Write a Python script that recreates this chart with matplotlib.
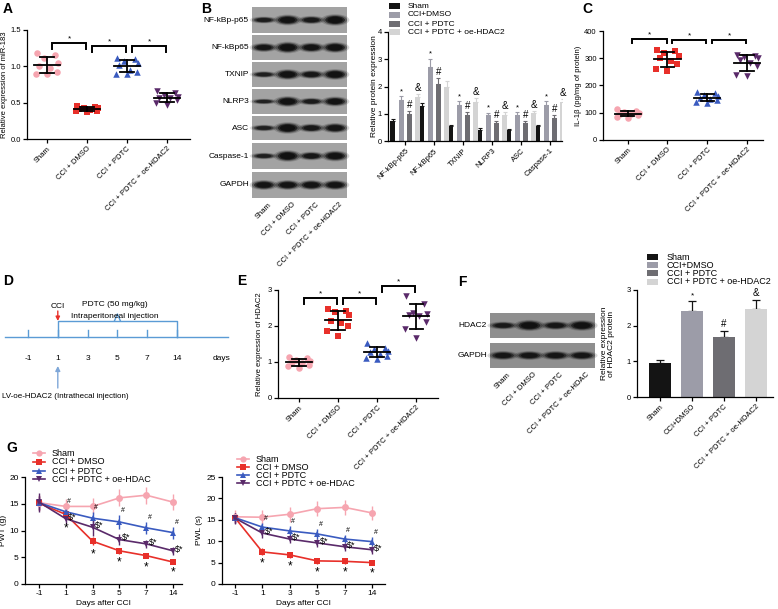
import matplotlib
matplotlib.use('Agg')
import matplotlib.pyplot as plt
import numpy as np
from matplotlib.patches import Ellipse, Rectangle
from matplotlib.lines import Line2D

plt.rcParams['font.family'] = ['Liberation Sans', 'DejaVu Sans']
plt.rcParams['font.size'] = 5.5
plt.rcParams['axes.linewidth'] = 0.9
plt.rcParams['xtick.major.width'] = 0.9
plt.rcParams['ytick.major.width'] = 0.9
plt.rcParams['xtick.major.size'] = 3
plt.rcParams['ytick.major.size'] = 3
plt.rcParams['xtick.major.pad'] = 1.5
plt.rcParams['ytick.major.pad'] = 1.5

# ---------------- data ----------------
groups = ["Sham", "CCI + DMSO", "CCI + PDTC", "CCI + PDTC + oe-HDAC2"]
group_colors = ["#F6A5B0", "#E8302A", "#3A5BC0", "#5A2A6A"]
group_markers = ["o", "s", "^", "v"]

# A: miR-183
a_sham = [1.18, 1.15, 1.12, 1.05, 1.00, 0.98, 0.92, 0.90, 0.90]
a_dmso = [0.46, 0.44, 0.43, 0.42, 0.41, 0.40, 0.39, 0.38, 0.37]
a_pdtc = [1.12, 1.10, 1.08, 1.05, 1.02, 0.95, 0.92, 0.90, 0.90]
a_oe = [0.66, 0.63, 0.60, 0.58, 0.57, 0.56, 0.53, 0.50, 0.47]

# B: western blot + bars
b_proteins = ["NF-kBp-p65", "NF-kBp65", "TXNIP", "NLRP3", "ASC", "Caspase-1"]
b_blot_rows = ["NF-kBp-p65", "NF-kBp65", "TXNIP", "NLRP3", "ASC", "Caspase-1", "GAPDH"]
b_blot_intensity = [
    [0.45, 0.90, 0.60, 1.00],
    [0.70, 1.00, 0.80, 0.90],
    [0.40, 0.90, 0.65, 0.90],
    [0.30, 0.90, 0.50, 0.80],
    [0.40, 1.00, 0.65, 0.80],
    [0.40, 1.00, 0.65, 0.90],
    [0.80, 0.80, 0.80, 0.80],
]
b_lane_labels = ["Sham", "CCI + DMSO", "CCI + PDTC", "CCI + PDTC + oe-HDAC2"]
b_series_names = ["Sham", "CCI+DMSO", "CCI + PDTC", "CCI + PDTC + oe-HDAC2"]
b_sham = [0.75, 1.27, 0.55, 0.42, 0.40, 0.55]
b_sham_err = [0.07, 0.14, 0.05, 0.04, 0.04, 0.05]
b_dmso = [1.52, 2.70, 1.33, 0.95, 0.97, 1.33]
b_dmso_err = [0.13, 0.32, 0.13, 0.09, 0.09, 0.12]
b_pdtc = [1.00, 2.10, 0.95, 0.65, 0.66, 0.85]
b_pdtc_err = [0.10, 0.22, 0.10, 0.07, 0.07, 0.09]
b_oe = [1.60, 2.00, 1.42, 0.97, 1.02, 1.42]
b_oe_err = [0.13, 0.22, 0.14, 0.09, 0.09, 0.12]
b_dmso_marks = ["*", "*", "*", "*", "*", "*"]
b_pdtc_marks = ["#", "#", "#", "#", "#", "#"]
b_oe_marks = ["&", "", "&", "&", "&", "&"]
bar_colors = ["#141414", "#9C9CA8", "#6E6D72", "#D4D4D4"]

# C: IL-1beta
c_sham = [112, 108, 104, 100, 97, 95, 90, 86, 82]
c_dmso = [332, 325, 318, 310, 300, 290, 278, 262, 255]
c_pdtc = [176, 172, 166, 160, 155, 150, 146, 140, 136]
c_oe = [312, 310, 306, 300, 292, 282, 272, 240, 234]

# D: timeline
d_days = [-1, 1, 3, 5, 7, 14]

# E: HDAC2 mRNA
e_sham = [1.15, 1.10, 1.05, 1.02, 1.00, 0.97, 0.93, 0.88, 0.84]
e_dmso = [2.48, 2.42, 2.38, 2.30, 2.15, 2.08, 2.00, 1.85, 1.72]
e_pdtc = [1.52, 1.40, 1.35, 1.30, 1.27, 1.22, 1.18, 1.12, 1.08]
e_oe = [2.82, 2.60, 2.35, 2.32, 2.30, 2.28, 2.10, 1.93, 1.68]

# F: HDAC2 protein
f_blot_rows = ["HDAC2", "GAPDH"]
f_blot_intensity = [[0.55, 0.95, 0.65, 0.90], [0.70, 0.70, 0.70, 0.70]]
f_lane_labels = ["Sham", "CCI + DMSO", "CCI + PDTC", "CCI + PDTC + oe-HDAC"]
f_cats = ["Sham", "CCI+DMSO", "CCI + PDTC", "CCI + PDTC + oe-HDAC2"]
f_vals = [0.95, 2.42, 1.68, 2.46]
f_err = [0.10, 0.27, 0.18, 0.27]
f_marks = ["", "*", "#", "&"]

# G: behaviour
g_days = ["-1", "1", "3", "5", "7", "14"]
g_names = ["Sham", "CCI + DMSO", "CCI + PDTC", "CCI + PDTC + oe-HDAC"]
pwt_sham = [15.2, 14.5, 14.5, 16.1, 16.6, 15.3]
pwt_sham_err = [1.5, 1.4, 1.5, 1.6, 1.6, 1.5]
pwt_dmso = [15.1, 13.0, 8.0, 6.2, 5.3, 4.1]
pwt_dmso_err = [1.3, 1.0, 0.8, 0.6, 0.5, 0.4]
pwt_pdtc = [15.2, 13.5, 12.3, 11.6, 10.5, 9.6]
pwt_pdtc_err = [1.3, 1.0, 1.2, 1.3, 1.1, 1.1]
pwt_oe = [15.3, 12.2, 10.6, 8.3, 7.5, 6.2]
pwt_oe_err = [1.8, 1.0, 1.6, 1.1, 0.8, 0.8]

pwl_sham = [15.7, 15.6, 16.3, 17.6, 17.9, 16.6]
pwl_sham_err = [1.5, 1.6, 1.7, 1.7, 1.8, 1.6]
pwl_dmso = [15.5, 7.5, 6.8, 5.4, 5.3, 5.0]
pwl_dmso_err = [1.2, 0.8, 0.7, 0.7, 0.6, 0.6]
pwl_pdtc = [15.5, 13.3, 12.4, 11.7, 10.5, 9.9]
pwl_pdtc_err = [1.2, 1.0, 1.1, 1.1, 1.0, 1.0]
pwl_oe = [15.4, 11.9, 10.5, 9.6, 8.7, 8.0]
pwl_oe_err = [1.3, 1.2, 1.0, 1.0, 0.9, 0.9]

# ---------------- figure ----------------
W, H = 778, 609
fig = plt.figure(figsize=(W / 100, H / 100), dpi=100)


def add_ax(x0, y0, x1, y1):
    ax = fig.add_axes([x0 / W, 1 - y1 / H, (x1 - x0) / W, (y1 - y0) / H])
    ax.spines['top'].set_visible(False)
    ax.spines['right'].set_visible(False)
    ax.patch.set_alpha(0)
    return ax


def ylabel_at(ax, text, px, x0, x1, **kw):
    ax.set_ylabel(text, **kw)
    ax.yaxis.set_label_coords((px - x0) / (x1 - x0), 0.5)


jitter = [-0.26, 0.20, -0.08, 0.28, -0.19, 0.08, 0.25, -0.28, 0.0]


def dot_panel(ax, series, brackets, star_pad):
    for i, vals in enumerate(series):
        v = np.asarray(vals, dtype=float)
        xs = i + np.array(jitter[:len(v)])
        ax.scatter(xs, v, marker=group_markers[i], s=22, color=group_colors[i],
                   linewidths=0, zorder=2)
        m = v.mean()
        sd = v.std(ddof=1)
        ax.plot([i - 0.33, i + 0.33], [m, m], color='k', lw=1.3, zorder=3)
        ax.plot([i, i], [m - sd, m + sd], color='k', lw=1.3, zorder=3)
        for yy in (m - sd, m + sd):
            ax.plot([i - 0.17, i + 0.17], [yy, yy], color='k', lw=1.3, zorder=3)
    for (i, j, yb, yt) in brackets:
        a, b = i + 0.12, j - 0.02
        ax.plot([a, a, b, b], [yb, yt, yt, yb], color='k', lw=1.4, clip_on=False,
                solid_joinstyle='miter')
        ax.text((a + b) / 2, yt + star_pad, '*', ha='center', va='bottom', fontsize=6)
    ax.set_xticks(range(len(series)))
    ax.set_xticklabels(groups, rotation=45, ha='right', rotation_mode='anchor')


# ---- Panel A ----
AX = (27, 30, 190, 139)
axA = add_ax(*AX)
dot_panel(axA, [a_sham, a_dmso, a_pdtc, a_oe],
          [(0, 1, 1.24, 1.32), (1, 2, 1.20, 1.28), (2, 3, 1.20, 1.28)], 0.01)
axA.set_xlim(-0.5, 3.575)
axA.set_ylim(0, 1.5)
axA.set_yticks([0, 0.5, 1.0, 1.5])
axA.set_yticklabels(["0.0", "0.5", "1.0", "1.5"])
ylabel_at(axA, "Relative expression of miR-183", 8, AX[0], AX[2])

# ---- Panel C ----
CX = (603, 31, 763, 140)
axC = add_ax(*CX)
dot_panel(axC, [c_sham, c_dmso, c_pdtc, c_oe],
          [(0, 1, 356, 370), (1, 2, 356, 367), (2, 3, 356, 367)], 3)
axC.set_xlim(-0.62, 3.4)
axC.set_ylim(0, 400)
axC.set_yticks([0, 100, 200, 300, 400])
ylabel_at(axC, "IL-1β (pg/mg of protein)", 582, CX[0], CX[2])

# ---- Panel E ----
EX = (278, 290, 438, 398)
axE = add_ax(*EX)
dot_panel(axE, [e_sham, e_dmso, e_pdtc, e_oe],
          [(0, 1, 2.61, 2.78), (1, 2, 2.61, 2.78), (2, 3, 2.95, 3.10)], 0.02)
axE.set_xlim(-0.54, 3.56)
axE.set_ylim(0, 3)
axE.set_yticks([0, 1, 2, 3])
ylabel_at(axE, "Relative expression of HDAC2", 263, EX[0], EX[2])

# ---- Panel B bars ----
BX = (388, 32, 562, 141)
axB = add_ax(*BX)
xb = np.arange(len(b_proteins))
offs = [-0.43, -0.14, 0.14, 0.43]
bw = 0.17
b_series = [(b_sham, b_sham_err, None), (b_dmso, b_dmso_err, b_dmso_marks),
            (b_pdtc, b_pdtc_err, b_pdtc_marks), (b_oe, b_oe_err, b_oe_marks)]
for k, (vals, errs, marks) in enumerate(b_series):
    xs = xb + offs[k]
    axB.bar(xs, vals, width=bw, color=bar_colors[k], zorder=2)
    axB.errorbar(xs, vals, yerr=[np.zeros(len(vals)), errs], fmt='none',
                 ecolor=bar_colors[k] if k != 0 else '#141414', elinewidth=0.8,
                 capsize=1.2, capthick=0.8, zorder=1)
    if marks:
        for x, v, e, mk in zip(xs, vals, errs, marks):
            if mk:
                axB.text(x, v + e + 0.04, mk, ha='center', va='bottom',
                         fontsize=5.5 if mk == '*' else 7)
axB.set_xlim(-0.59, 5.41)
axB.set_ylim(0, 4)
axB.set_yticks([0, 1, 2, 3, 4])
axB.set_xticks(xb)
axB.set_xticklabels(b_proteins, rotation=45, ha='right', rotation_mode='anchor')
ylabel_at(axB, "Relative protein expression", 378, BX[0], BX[2], fontsize=6)

# ---- Panel F bars ----
FX = (637, 290, 773, 397)
axF = add_ax(*FX)
xf = np.arange(len(f_vals))
axF.bar(xf, f_vals, width=0.69, color=bar_colors, zorder=2)
axF.errorbar(xf, f_vals, yerr=[np.zeros(len(f_vals)), f_err], fmt='none',
             ecolor='#141414', elinewidth=0.9, capsize=3, capthick=0.9, zorder=1)
for x, v, e, mk in zip(xf, f_vals, f_err, f_marks):
    if mk:
        axF.text(x, v + e + 0.05, mk, ha='center', va='bottom',
                 fontsize=6 if mk == '*' else 7)
axF.set_xlim(-0.72, 3.53)
axF.set_ylim(0, 3)
axF.set_yticks([0, 1, 2, 3])
axF.set_xticks(xf)
axF.set_xticklabels(f_cats, rotation=45, ha='right', rotation_mode='anchor')
ylabel_at(axF, "Relative expression\nof HDAC2 protein", 615, FX[0], FX[2], fontsize=6,
          linespacing=1.0)

# ---- Panel G ----
def line_panel(ax, sets):
    xs = np.arange(len(g_days))
    for (vals, errs), c, m in zip(sets, group_colors, group_markers):
        ax.errorbar(xs, vals, yerr=errs, color=c, marker=m, ms=5, lw=1.2,
                    capsize=2, elinewidth=1, capthick=1, mew=0)
    ax.set_xticks(xs)
    ax.set_xticklabels(g_days, fontsize=6)
    ax.set_xlabel("Days after CCI", fontsize=6, labelpad=2)


def g_annot(ax, dmso, dmso_e, pdtc, pdtc_e, oe, oe_e):
    for x in range(1, len(g_days)):
        ax.text(x, dmso[x] - dmso_e[x] - 0.5, '*', ha='center', va='top', fontsize=8.5)
        ax.text(x + 0.05, pdtc[x] + pdtc_e[x] + 0.2, '#', ha='left', va='bottom', fontsize=5)
        ax.text(x + 0.08, oe[x] + 0.3, '$*', ha='left', va='center', fontsize=6.5)


G1 = (25, 477, 182, 584)
axG1 = add_ax(*G1)
line_panel(axG1, [(pwt_sham, pwt_sham_err), (pwt_dmso, pwt_dmso_err),
                  (pwt_pdtc, pwt_pdtc_err), (pwt_oe, pwt_oe_err)])
g_annot(axG1, pwt_dmso, pwt_dmso_err, pwt_pdtc, pwt_pdtc_err, pwt_oe, pwt_oe_err)
axG1.set_xlim(-0.52, 5.33)
axG1.set_ylim(0, 20)
axG1.set_yticks([0, 5, 10, 15, 20])
axG1.tick_params(labelsize=6)
ylabel_at(axG1, "PWT (g)", 7, G1[0], G1[2], fontsize=6)

G2 = (222, 477, 385, 584)
axG2 = add_ax(*G2)
line_panel(axG2, [(pwl_sham, pwl_sham_err), (pwl_dmso, pwl_dmso_err),
                  (pwl_pdtc, pwl_pdtc_err), (pwl_oe, pwl_oe_err)])
g_annot(axG2, pwl_dmso, pwl_dmso_err, pwl_pdtc, pwl_pdtc_err, pwl_oe, pwl_oe_err)
axG2.set_xlim(-0.47, 5.47)
axG2.set_ylim(0, 25)
axG2.set_yticks([0, 5, 10, 15, 20, 25])
axG2.tick_params(labelsize=6)
ylabel_at(axG2, "PWL (s)", 203, G2[0], G2[2], fontsize=6)

# ---------------- overlay (pixel coordinates) ----------------
ov = fig.add_axes([0, 0, 1, 1], zorder=10)
ov.set_xlim(0, W)
ov.set_ylim(H, 0)
ov.axis('off')
ov.patch.set_alpha(0)


def blot(x0, x1, y0, y1, intens, bg='#a3a3a3'):
    ov.add_patch(Rectangle((x0, y0), x1 - x0, y1 - y0, facecolor=bg, edgecolor='none'))
    n = len(intens)
    lw = (x1 - x0) / n
    cy = (y0 + y1) / 2
    for i, v in enumerate(intens):
        cx = x0 + lw * (i + 0.5)
        for sc, al in [(1.3, 0.18), (1.1, 0.35), (0.9, 0.7), (0.7, 0.95)]:
            ov.add_patch(Ellipse((cx, cy), lw * 0.92 * sc, (2.5 + 6.5 * v) * sc,
                                 facecolor='#101010', alpha=al * (0.55 + 0.45 * v),
                                 edgecolor='none'))


def box_legend(xb, xt, ys, names, cols, fs=6):
    for y, nm, c in zip(ys, names, cols):
        ov.add_patch(Rectangle((xb, y - 3), 11, 6, facecolor=c, edgecolor='none'))
        ov.text(xt, y, nm, ha='left', va='center', fontsize=fs)


def line_legend(x0, x1, xt, ys, names):
    for y, nm, c, m in zip(ys, names, group_colors, group_markers):
        ov.add_line(Line2D([x0, x1], [y, y], color=c, lw=1.2))
        ov.add_line(Line2D([(x0 + x1) / 2], [y], color=c, marker=m, ms=4.5, mew=0))
        ov.text(xt, y, nm, ha='left', va='center', fontsize=6.5)


# B blot
b_row_y = [(7, 33), (35, 60), (62, 87), (89, 114), (116, 140), (143, 169), (172, 198)]
bx0, bx1 = 252, 347
for (y0, y1), name, inten in zip(b_row_y, b_blot_rows, b_blot_intensity):
    blot(bx0, bx1, y0, y1, inten)
    ov.text(bx0 - 3, (y0 + y1) / 2, name, ha='right', va='center', fontsize=6)
lane_w = (bx1 - bx0) / 4
for i, lab in enumerate(b_lane_labels):
    ov.text(bx0 + lane_w * (i + 0.5) + 4, 201, lab, rotation=45, ha='right', va='top',
            rotation_mode='anchor', fontsize=5.5)
box_legend(389, 408, [6, 15, 24, 32], b_series_names, bar_colors)

# F blot
fx0, fx1 = 490, 595
for (y0, y1), name, inten in zip([(313, 338), (343, 368)], f_blot_rows, f_blot_intensity):
    blot(fx0, fx1, y0, y1, inten, bg='#8f8f8f')
    ov.text(458, (y0 + y1) / 2, name, ha='left', va='center', fontsize=6)
lane_w = (fx1 - fx0) / 4
for i, lab in enumerate(f_lane_labels):
    ov.text(fx0 + lane_w * (i + 0.5) + 4, 371, lab, rotation=45, ha='right', va='top',
            rotation_mode='anchor', fontsize=5.5)
box_legend(647, 667, [257, 265, 273, 282], b_series_names, bar_colors, fs=6.5)

# G legends
line_legend(33, 45, 52, [453, 462, 471, 479], g_names)
line_legend(237, 249, 256, [459, 467, 475, 483], g_names)

# D timeline
tl_col = '#5B9BD5'
ty = 337
ov.add_line(Line2D([5, 228], [ty, ty], color=tl_col, lw=1.0))
tick_x = [28 + 29.8 * i for i in range(len(d_days))]
for x, d in zip(tick_x, d_days):
    ov.add_line(Line2D([x, x], [ty, ty - 7], color=tl_col, lw=1.0))
    ov.text(x, 358, str(d), ha='center', va='center', fontsize=6)
ov.text(222, 358, "days", ha='center', va='center', fontsize=6)
xs_cci, xs_end = tick_x[1], tick_x[-1]
xm = (xs_cci + xs_end) / 2
ov.add_line(Line2D([xs_cci, xs_cci, xs_end, xs_end], [ty, 321, 321, ty], color=tl_col, lw=1.0))
ov.add_line(Line2D([xm - 3, xm, xm + 3], [321, 314, 321], color=tl_col, lw=1.0))
ov.text(xm - 3, 305, "PDTC (50 mg/kg)", ha='center', va='center', fontsize=6)
ov.text(xm - 3, 317, "Intraperitoneal injection", ha='center', va='center', fontsize=6)
ov.text(xs_cci, 306, "CCI", ha='center', va='center', fontsize=6)
ov.annotate('', xy=(xs_cci, 321), xytext=(xs_cci, 311),
            arrowprops=dict(arrowstyle='-|>', color='#E8302A', lw=1.0, mutation_scale=6,
                            shrinkA=0, shrinkB=0))
ov.annotate('', xy=(xs_cci, 366), xytext=(xs_cci, 388),
            arrowprops=dict(arrowstyle='-|>', color='#7FA7D8', lw=1.0, mutation_scale=7,
                            shrinkA=0, shrinkB=0))
ov.text(2, 397, "LV-oe-HDAC2 (Intrathecal injection)", ha='left', va='center', fontsize=5.8)

# panel letters
for lab, (x, y) in {"A": (8, 9), "B": (206, 9), "C": (587, 9), "D": (8, 281),
                    "E": (242, 281), "F": (462, 282), "G": (12, 448)}.items():
    ov.text(x, y, lab, ha='center', va='center', fontsize=10, fontweight='bold')

fig.savefig("out.png", dpi=100)
